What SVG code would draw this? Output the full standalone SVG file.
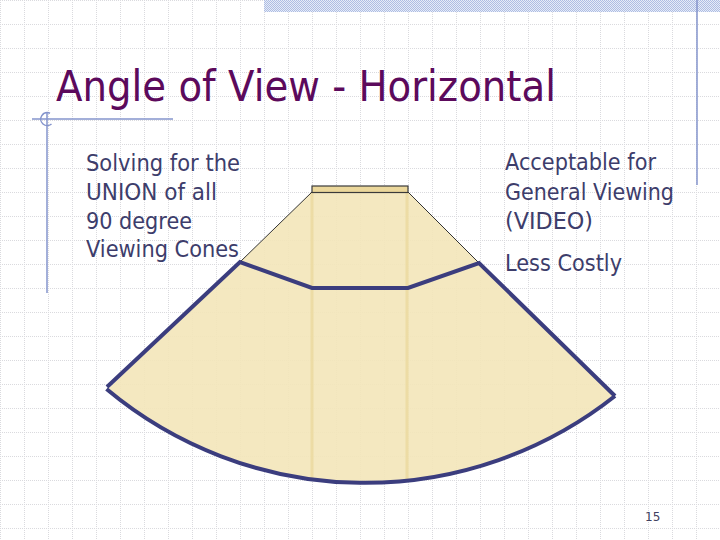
<svg xmlns="http://www.w3.org/2000/svg" width="720" height="540" viewBox="0 0 720 540">
  <defs>
    <pattern id="grid" width="24" height="24" patternUnits="userSpaceOnUse">
      <path d="M0 0.5 H24 M0.5 0 V24" stroke="#dadade" stroke-width="1" stroke-dasharray="1 1" fill="none"/>
    </pattern>
    <pattern id="check" width="2" height="2" patternUnits="userSpaceOnUse">
      <rect width="2" height="2" fill="#e6ecf8"/>
      <rect width="1" height="1" fill="#aebde3"/>
      <rect x="1" y="1" width="1" height="1" fill="#aebde3"/>
    </pattern>
    <style>
      .title { font-family: "DejaVu Sans", Verdana, sans-serif; font-size: 42px; fill: #5c0a5c; }
      .body { font-family: "DejaVu Sans", Verdana, sans-serif; font-size: 23px; fill: #3d3d6b; }
      .pg { font-family: "DejaVu Sans", Verdana, sans-serif; font-size: 12px; fill: #404060; }
      .deco { stroke: #8494cc; stroke-width: 1.5; fill: none; }
      .thick { stroke: #3b3d7e; stroke-width: 4; fill: none; stroke-linejoin: miter; }
      .thin { stroke: #333333; stroke-width: 1; fill: none; }
      .strip { stroke: #ead594; stroke-width: 3; opacity: 0.6; }
    </style>
  </defs>

  <!-- background -->
  <rect width="720" height="540" fill="#ffffff"/>
  <rect width="720" height="540" fill="url(#grid)"/>
  <rect x="264" y="0" width="456" height="12" fill="url(#check)"/>

  <!-- decorations -->
  <g id="decor">
    <line class="deco" x1="697" y1="0" x2="697" y2="185"/>
    <line class="deco" x1="47" y1="112" x2="47" y2="293"/>
    <line class="deco" x1="32" y1="119" x2="173" y2="119"/>
    <path class="deco" d="M50,113.2 A6.5,6.5 0 1 0 51.5,124"/>
  </g>

  <!-- title -->
  <g id="title">
    <text class="title" x="56" y="101" textLength="500" lengthAdjust="spacingAndGlyphs">Angle of View - Horizontal</text>
  </g>

  <!-- left text -->
  <g id="left-text">
    <text class="body" x="86" y="171" textLength="154" lengthAdjust="spacingAndGlyphs">Solving for the</text>
    <text class="body" x="86" y="199.5" textLength="131" lengthAdjust="spacingAndGlyphs">UNION of all</text>
    <text class="body" x="86" y="228.5" textLength="106" lengthAdjust="spacingAndGlyphs">90 degree</text>
    <text class="body" x="86" y="257" textLength="153" lengthAdjust="spacingAndGlyphs">Viewing Cones</text>
  </g>

  <!-- right text -->
  <g id="right-text">
    <text class="body" x="505" y="170" textLength="151" lengthAdjust="spacingAndGlyphs">Acceptable for</text>
    <text class="body" x="505" y="199.5" textLength="169" lengthAdjust="spacingAndGlyphs">General Viewing</text>
    <text class="body" x="505" y="228.5" textLength="88" lengthAdjust="spacingAndGlyphs">(VIDEO)</text>
    <text class="body" x="505" y="271" textLength="117" lengthAdjust="spacingAndGlyphs">Less Costly</text>
  </g>

  <!-- viewing cone -->
  <g id="cone">
    <path d="M312,192 L408,192 L479,263 L615,396 A403,403 0 0 1 107,390 L240,262 Z" fill="#f3e6b9" fill-opacity="0.9"/>
    <line class="strip" x1="312" y1="192" x2="312" y2="479"/>
    <line class="strip" x1="407" y1="192" x2="407" y2="479"/>
    <rect x="312" y="186" width="96" height="6.5" fill="#ebd79b" stroke="#3a3a3a" stroke-width="1.2"/>
  </g>

  <g id="connectors">
    <path class="thin" d="M312,192 L240,262"/>
    <path class="thin" d="M408,192 L479,263"/>
    <path class="thick" d="M107,387 L240,262 L312,288 L408,288 L479,263 L615,396"/>
    <path class="thick" d="M615,396 A403,403 0 0 1 106.5,389"/>
  </g>

  <g id="page-number">
    <text class="pg" x="645" y="521">15</text>
  </g>
</svg>
